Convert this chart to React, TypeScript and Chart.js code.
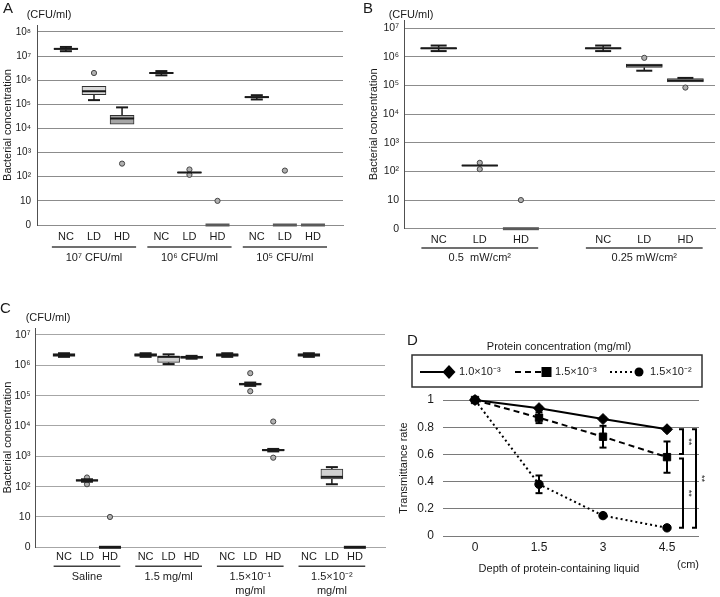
import React, { useEffect, useRef } from 'react';
import { Chart, registerables } from 'chart.js';

Chart.register(...registerables);

const FONT = '"Liberation Sans", Arial, Helvetica, sans-serif';
const INK = '#1a1a1a';

// ---------- shared ----------
const logTickLabels = ['0', '10', '10²', '10³', '10⁴', '10⁵', '10⁶', '10⁷', '10⁸'];
const doseLabels = ['NC', 'LD', 'HD'];

// ---------- Panel A (CFU/ml, 0 = none detected) ----------
const aGroups = [['10⁷ CFU/ml'], ['10⁶ CFU/ml'], ['10⁵ CFU/ml']];
const aMin = [1.6e7, 1.5e5, 1.5e4, 1.6e6, 1.45e2, 0, 1.6e5, 0, 0];
const aQ1 = [1.9e7, 2.5e5, 1.5e4, 1.9e6, 1.45e2, 0, 1.9e5, 0, 0];
const aMed = [2.0e7, 3.5e5, 2.6e4, 2.0e6, 1.5e2, 0, 2.0e5, 0, 0];
const aQ3 = [2.1e7, 5.6e5, 3.5e4, 2.1e6, 1.55e2, 0, 2.1e5, 0, 0];
const aMax = [2.4e7, 5.6e5, 7.5e4, 2.4e6, 1.55e2, 0, 2.4e5, 0, 0];
const aOutliers = [[], [2.0e6], [3.5e2], [], [2.0e2, 1.2e2], [10], [], [1.8e2], []];

// ---------- Panel B ----------
const bGroups = [['0.5  mW/cm²'], ['0.25 mW/cm²']];
const bMin = [1.6e6, 1.55e2, 0, 1.6e6, 3.3e5, 1.33e5];
const bQ1 = [1.9e6, 1.55e2, 0, 1.9e6, 4.3e5, 1.33e5];
const bMed = [2.0e6, 1.6e2, 0, 2.0e6, 5.0e5, 1.5e5];
const bQ3 = [2.1e6, 1.65e2, 0, 2.1e6, 5.6e5, 1.75e5];
const bMax = [2.5e6, 1.65e2, 0, 2.5e6, 5.6e5, 1.85e5];
const bOutliers = [[], [2.0e2, 1.2e2], [10], [], [9.3e5], [8.5e4]];

// ---------- Panel C ----------
const cGroups = [['Saline'], ['1.5 mg/ml'], ['1.5×10⁻¹', 'mg/ml'], ['1.5×10⁻²', 'mg/ml']];
const cMin = [1.9e6, 1.45e2, 0, 1.9e6, 1.1e6, 1.65e6, 1.9e6, 2.1e5, 1.45e3, 1.9e6, 1.2e2, 0];
const cQ1 = [1.95e6, 1.5e2, 0, 1.95e6, 1.25e6, 1.7e6, 1.95e6, 2.2e5, 1.5e3, 1.95e6, 1.8e2, 0];
const cMed = [2.2e6, 1.6e2, 0, 2.2e6, 1.9e6, 1.85e6, 2.2e6, 2.4e5, 1.6e3, 2.2e6, 2.1e2, 0];
const cQ3 = [2.45e6, 1.7e2, 0, 2.45e6, 2.0e6, 2.0e6, 2.45e6, 2.6e5, 1.7e3, 2.45e6, 3.8e2, 0];
const cMax = [2.5e6, 1.75e2, 0, 2.5e6, 2.3e6, 2.05e6, 2.5e6, 2.7e5, 1.75e3, 2.5e6, 4.4e2, 0];
const cOutliers = [[], [2.0e2, 1.2e2], [10], [], [], [], [], [5.5e5, 1.4e5], [1.4e4, 9e2], [], [], []];

// ---------- Panel D ----------
const dDepth = ['0', '1.5', '3', '4.5'];
const dYTicks = [0, 0.2, 0.4, 0.6, 0.8, 1];
const dYTickLabels = ['0', '0.2', '0.4', '0.6', '0.8', '1'];
const dNames = ['1.0×10⁻³', '1.5×10⁻³', '1.5×10⁻²'];
const dLow = [1, 0.94, 0.86, 0.785];
const dLowErr = [0, 0.01, 0.01, 0.01];
const dMid = [1, 0.87, 0.73, 0.58];
const dMidErr = [0, 0.04, 0.08, 0.115];
const dHigh = [1, 0.38, 0.15, 0.06];
const dHighErr = [0, 0.065, 0.015, 0.01];
const dBrackets = [[0, 1], [1, 2], [0, 2]];
const dBracketText = ['**', '**', '**'];

function lv(v: number) {
  return v <= 1 ? 0 : Math.log10(v);
}

type BoxPanel = any;

const panelA: BoxPanel = {
  letter: 'A', letterX: 3, letterY: 9, unitX: 49, unitY: 15,
  groups: aGroups, min: aMin, q1: aQ1, med: aMed, q3: aQ3, max: aMax, outliers: aOutliers,
  nTicks: 9, yMax: 8.29, xMin: -1.03, xMax: 9.87, stride: 3.4,
  padTop: 25, padRight: 17, yAxisW: 37, xAxisH: 75,
  yTickFont: 10, xFont: 11, yTickPad: 6, xTickPad: 5.4, titlePad: 1.4,
  boxW: 24, capW: 12, fills: ['#3a3a3a', '#d9d9d9', '#a6a6a6'], zeroColor: '#5a5a5a',
  gridColor: '#8c8c8c', under: 0.5, underY: 22, groupY: 33,
};
const panelB: BoxPanel = {
  letter: 'B', letterX: 3, letterY: 9, unitX: 51, unitY: 15,
  groups: bGroups, min: bMin, q1: bQ1, med: bMed, q3: bQ3, max: bMax, outliers: bOutliers,
  nTicks: 8, yMax: 7.29, xMin: -0.843, xMax: 6.72, stride: 4,
  padTop: 20, padRight: 2, yAxisW: 44, xAxisH: 71.3,
  yTickFont: 10.5, xFont: 11, yTickPad: 5, xTickPad: 4.7, titlePad: 7.4,
  boxW: 36, capW: 16, fills: ['#3a3a3a', '#d9d9d9', '#d9d9d9'], zeroColor: '#5a5a5a',
  gridColor: '#8c8c8c', under: 0.42, underY: 19.3, groupY: 29.3,
};
const panelC: BoxPanel = {
  letter: 'C', letterX: 0, letterY: 9, unitX: 48, unitY: 18,
  groups: cGroups, min: cMin, q1: cQ1, med: cMed, q3: cQ3, max: cMax, outliers: cOutliers,
  nTicks: 8, yMax: 7.23, xMin: -1.26, xMax: 13.96, stride: 3.55,
  padTop: 28, padRight: 5, yAxisW: 35, xAxisH: 49.7,
  yTickFont: 10.5, xFont: 11, yTickPad: 4.5, xTickPad: 3.1, titlePad: 1,
  boxW: 22, capW: 12, fills: ['#1a1a1a', '#d0d0d0', '#1a1a1a'], zeroColor: '#1a1a1a',
  gridColor: '#a6a6a6', under: 0.45, underY: 19, groupY: 30,
};

function hline(ctx: CanvasRenderingContext2D, x0: number, x1: number, y: number) {
  ctx.beginPath();
  ctx.moveTo(x0, y);
  ctx.lineTo(x1, y);
  ctx.stroke();
}
function vline(ctx: CanvasRenderingContext2D, x: number, y0: number, y1: number) {
  ctx.beginPath();
  ctx.moveTo(x, y0);
  ctx.lineTo(x, y1);
  ctx.stroke();
}

function makeBoxChart(canvas: HTMLCanvasElement, p: BoxPanel) {
  const positions: number[] = p.min.map((_: number, i: number) => Math.floor(i / 3) * p.stride + (i % 3));
  const boxIdx = positions.map((_, i) => i).filter((i) => p.max[i] > 0);

  const plugin = {
    id: 'boxExtras' + p.letter,
    beforeDatasetsDraw(chart: any) {
      const ctx = chart.ctx, xs = chart.scales.x, ys = chart.scales.y;
      ctx.save();
      ctx.strokeStyle = INK;
      ctx.lineWidth = 1.5;
      boxIdx.forEach((i) => {
        const x = xs.getPixelForValue(positions[i]);
        if (p.min[i] < p.q1[i]) vline(ctx, x, ys.getPixelForValue(lv(p.min[i])), ys.getPixelForValue(lv(p.q1[i])));
        if (p.max[i] > p.q3[i]) vline(ctx, x, ys.getPixelForValue(lv(p.q3[i])), ys.getPixelForValue(lv(p.max[i])));
      });
      ctx.restore();
    },
    afterDatasetsDraw(chart: any) {
      const ctx = chart.ctx, xs = chart.scales.x, ys = chart.scales.y;
      ctx.save();
      ctx.strokeStyle = INK;
      boxIdx.forEach((i) => {
        const x = xs.getPixelForValue(positions[i]);
        ctx.lineWidth = 2;
        hline(ctx, x - p.boxW / 2, x + p.boxW / 2, ys.getPixelForValue(lv(p.med[i])));
        if (p.min[i] < p.q1[i]) hline(ctx, x - p.capW / 2, x + p.capW / 2, ys.getPixelForValue(lv(p.min[i])));
        if (p.max[i] > p.q3[i]) hline(ctx, x - p.capW / 2, x + p.capW / 2, ys.getPixelForValue(lv(p.max[i])));
      });
      ctx.fillStyle = p.zeroColor;
      positions.forEach((pos, i) => {
        if (p.max[i] > 0) return;
        const x = xs.getPixelForValue(pos);
        const y = ys.getPixelForValue(0);
        ctx.fillRect(x - p.boxW / 2, y - 1.5, p.boxW, 3);
      });
      ctx.restore();
    },
    afterDraw(chart: any) {
      const ctx = chart.ctx, xs = chart.scales.x;
      const bottom = chart.chartArea.bottom;
      ctx.save();
      ctx.fillStyle = INK;
      ctx.textAlign = 'center';
      ctx.textBaseline = 'middle';
      ctx.font = `11px ${FONT}`;
      p.groups.forEach((lines: string[], g: number) => {
        const first = positions[g * 3], last = positions[g * 3 + 2];
        ctx.strokeStyle = '#404040';
        ctx.lineWidth = 1.5;
        hline(ctx, xs.getPixelForValue(first - p.under), xs.getPixelForValue(last + p.under), bottom + p.underY);
        const cx = (xs.getPixelForValue(first) + xs.getPixelForValue(last)) / 2;
        lines.forEach((t, k) => ctx.fillText(t, cx, bottom + p.groupY + k * 14));
      });
      ctx.fillText('(CFU/ml)', p.unitX, p.unitY);
      ctx.textAlign = 'left';
      ctx.font = `15px ${FONT}`;
      ctx.fillText(p.letter, p.letterX, p.letterY);
      ctx.restore();
    },
  };

  return new Chart(canvas, {
    type: 'bar',
    data: {
      datasets: [
        {
          type: 'bar',
          data: boxIdx.map((i) => ({ x: positions[i], y: [lv(p.q1[i]), lv(p.q3[i])] })),
          backgroundColor: boxIdx.map((i) => p.fills[i % 3]),
          borderColor: '#303030',
          borderWidth: 1,
          borderSkipped: false,
          barThickness: p.boxW,
        } as any,
        {
          type: 'scatter',
          data: positions.flatMap((x, i) => p.outliers[i].map((v: number) => ({ x, y: lv(v) }))),
          pointRadius: 2.6,
          pointBackgroundColor: '#b0b0b0',
          pointBorderColor: '#444',
          pointBorderWidth: 1,
        } as any,
      ],
    },
    options: {
      responsive: false,
      animation: false,
      events: [],
      layout: { padding: { top: p.padTop, right: p.padRight, left: 0, bottom: 0 } },
      plugins: { legend: { display: false }, tooltip: { enabled: false } },
      scales: {
        x: {
          type: 'linear',
          min: p.xMin,
          max: p.xMax,
          offset: false,
          afterBuildTicks: (s: any) => {
            s.ticks = positions.map((v) => ({ value: v }));
          },
          afterFit: (s: any) => {
            s.height = p.xAxisH;
          },
          ticks: {
            autoSkip: false,
            maxRotation: 0,
            minRotation: 0,
            padding: p.xTickPad,
            color: INK,
            font: { family: FONT, size: p.xFont },
            callback: (_v: any, i: number) => doseLabels[i % 3],
          },
          grid: { display: false, drawTicks: false },
          border: { display: true, color: p.gridColor, width: 1 },
        },
        y: {
          type: 'linear',
          min: 0,
          max: p.yMax,
          afterBuildTicks: (s: any) => {
            s.ticks = logTickLabels.slice(0, p.nTicks).map((_, i) => ({ value: i }));
          },
          afterFit: (s: any) => {
            s.width = p.yAxisW;
          },
          ticks: {
            autoSkip: false,
            padding: p.yTickPad,
            color: INK,
            font: { family: FONT, size: p.yTickFont },
            callback: (_v: any, i: number) => logTickLabels[i],
          },
          grid: { color: p.gridColor, lineWidth: 1, drawTicks: false },
          border: { display: true, color: '#505050', width: 1 },
          title: {
            display: true,
            text: 'Bacterial concentration',
            color: INK,
            font: { family: FONT, size: 11 },
            padding: { top: p.titlePad, bottom: 0 },
          },
        },
      },
    } as any,
    plugins: [plugin],
  });
}

function makeLineChart(canvas: HTMLCanvasElement) {
  const series = [dLow, dMid, dHigh];
  const errs = [dLowErr, dMidErr, dHighErr];
  const plugin = {
    id: 'dExtras',
    afterDatasetsDraw(chart: any) {
      const ctx = chart.ctx, xs = chart.scales.x, ys = chart.scales.y;
      ctx.save();
      ctx.strokeStyle = '#000';
      ctx.lineWidth = 2;
      ctx.setLineDash([]);
      series.forEach((s, k) => {
        s.forEach((v, i) => {
          const e = errs[k][i];
          if (!e) return;
          const x = xs.getPixelForValue(i);
          const yt = ys.getPixelForValue(v + e), yb = ys.getPixelForValue(v - e);
          vline(ctx, x, yt, yb);
          hline(ctx, x - 3.5, x + 3.5, yt);
          hline(ctx, x - 3.5, x + 3.5, yb);
        });
      });
      ctx.restore();
    },
    afterDraw(chart: any) {
      const ctx = chart.ctx, xs = chart.scales.x, ys = chart.scales.y;
      const last = dDepth.length - 1;
      const xb = xs.getPixelForValue(last);
      ctx.save();
      // significance brackets
      ctx.strokeStyle = '#000';
      ctx.fillStyle = INK;
      ctx.lineWidth = 2;
      ctx.font = `9px ${FONT}`;
      ctx.textAlign = 'center';
      ctx.textBaseline = 'middle';
      const offs = [16, 16, 29];
      dBrackets.forEach(([a, b], k) => {
        const x = xb + offs[k];
        let y1 = ys.getPixelForValue(series[a][last]);
        let y2 = ys.getPixelForValue(series[b][last]);
        if (k === 0) y2 -= 3;
        if (k === 1) y1 += 1.5;
        ctx.beginPath();
        ctx.moveTo(x - 4, y1);
        ctx.lineTo(x, y1);
        ctx.lineTo(x, y2);
        ctx.lineTo(x - 4, y2);
        ctx.stroke();
        ctx.save();
        ctx.translate(x + 5.5, (y1 + y2) / 2);
        ctx.rotate(Math.PI / 2);
        ctx.fillText(dBracketText[k], 0, 0);
        ctx.restore();
      });
      // legend
      ctx.lineWidth = 1.5;
      ctx.strokeStyle = '#303030';
      ctx.strokeRect(22, 55, 290, 32);
      ctx.font = `11px ${FONT}`;
      ctx.fillText('Protein concentration (mg/ml)', 169, 46.5);
      const ly = 72;
      const lineX = [[30, 56], [125, 153], [220, 246]];
      const markX = [59, 156.5, 249];
      const textX = [69, 165, 260];
      chart.data.datasets.forEach((ds: any, k: number) => {
        ctx.strokeStyle = '#000';
        ctx.lineWidth = 2;
        ctx.setLineDash(ds.borderDash || []);
        hline(ctx, lineX[k][0], lineX[k][1], ly);
        ctx.setLineDash([]);
        ctx.fillStyle = '#000';
        const mx = markX[k];
        if (ds.pointStyle === 'rectRot') {
          ctx.beginPath();
          ctx.moveTo(mx, ly - 7);
          ctx.lineTo(mx + 6.5, ly);
          ctx.lineTo(mx, ly + 7);
          ctx.lineTo(mx - 6.5, ly);
          ctx.closePath();
          ctx.fill();
        } else if (ds.pointStyle === 'rect') {
          ctx.fillRect(mx - 5, ly - 5, 10, 10);
        } else {
          ctx.beginPath();
          ctx.arc(mx, ly, 4.5, 0, Math.PI * 2);
          ctx.fill();
        }
        ctx.fillStyle = INK;
        ctx.textAlign = 'left';
        ctx.fillText(ds.label, textX[k], ly);
      });
      // axis titles
      ctx.textAlign = 'center';
      ctx.fillText('Depth of protein-containing liquid', 169, 269);
      ctx.fillText('(cm)', 298, 265);
      ctx.textAlign = 'left';
      ctx.font = `15px ${FONT}`;
      ctx.fillText('D', 17, 41);
      ctx.restore();
    },
  };

  return new Chart(canvas, {
    type: 'line',
    data: {
      labels: dDepth,
      datasets: [
        {
          label: dNames[0], data: dLow, borderColor: '#000', backgroundColor: '#000', borderWidth: 2,
          pointStyle: 'rectRot', pointRadius: 5.5, pointBorderWidth: 1, borderDash: [], clip: false, tension: 0,
        },
        {
          label: dNames[1], data: dMid, borderColor: '#000', backgroundColor: '#000', borderWidth: 2,
          pointStyle: 'rect', pointRadius: 5.2, pointBorderWidth: 1, borderDash: [6, 4], clip: false, tension: 0,
        },
        {
          label: dNames[2], data: dHigh, borderColor: '#000', backgroundColor: '#000', borderWidth: 2,
          pointStyle: 'circle', pointRadius: 4.2, pointBorderWidth: 1, borderDash: [2, 3], clip: false, tension: 0,
        },
      ],
    },
    options: {
      responsive: false,
      animation: false,
      events: [],
      layout: { padding: { top: 100, right: 21, left: 0, bottom: 0 } },
      plugins: { legend: { display: false }, tooltip: { enabled: false } },
      scales: {
        x: {
          type: 'category',
          offset: true,
          afterFit: (s: any) => {
            s.height = 61;
          },
          ticks: { padding: 4.8, color: INK, font: { family: FONT, size: 12 }, maxRotation: 0 },
          grid: { display: false, drawTicks: false },
          border: { display: false },
        },
        y: {
          type: 'linear',
          min: 0,
          max: 1,
          afterBuildTicks: (s: any) => {
            s.ticks = dYTicks.map((v) => ({ value: v }));
          },
          afterFit: (s: any) => {
            s.width = 53;
          },
          ticks: {
            padding: 9,
            color: INK,
            font: { family: FONT, size: 12 },
            callback: (_v: any, i: number) => dYTickLabels[i],
          },
          grid: { color: '#7a7a7a', lineWidth: 1, drawTicks: false },
          border: { display: false },
          title: {
            display: true,
            text: 'Transmittance rate',
            color: INK,
            font: { family: FONT, size: 11 },
            padding: { top: 7.4, bottom: 0 },
          },
        },
      },
    } as any,
    plugins: [plugin],
  });
}

export default function App() {
  const aRef = useRef<HTMLCanvasElement>(null);
  const bRef = useRef<HTMLCanvasElement>(null);
  const cRef = useRef<HTMLCanvasElement>(null);
  const dRef = useRef<HTMLCanvasElement>(null);

  useEffect(() => {
    const charts = [
      makeBoxChart(aRef.current!, panelA),
      makeBoxChart(bRef.current!, panelB),
      makeBoxChart(cRef.current!, panelC),
      makeLineChart(dRef.current!),
    ];
    return () => charts.forEach((c) => c.destroy());
  }, []);

  const abs = (left: number, top: number): React.CSSProperties => ({ position: 'absolute', left, top });

  return (
    <div style={{ position: 'absolute', left: 0, top: 0, width: 720, height: 597, background: '#fff', overflow: 'hidden' }}>
      <canvas ref={aRef} width={360} height={300} style={abs(0, 0)} />
      <canvas ref={bRef} width={360} height={300} style={abs(360, 0)} />
      <canvas ref={cRef} width={390} height={297} style={abs(0, 300)} />
      <canvas ref={dRef} width={330} height={297} style={abs(390, 300)} />
    </div>
  );
}
